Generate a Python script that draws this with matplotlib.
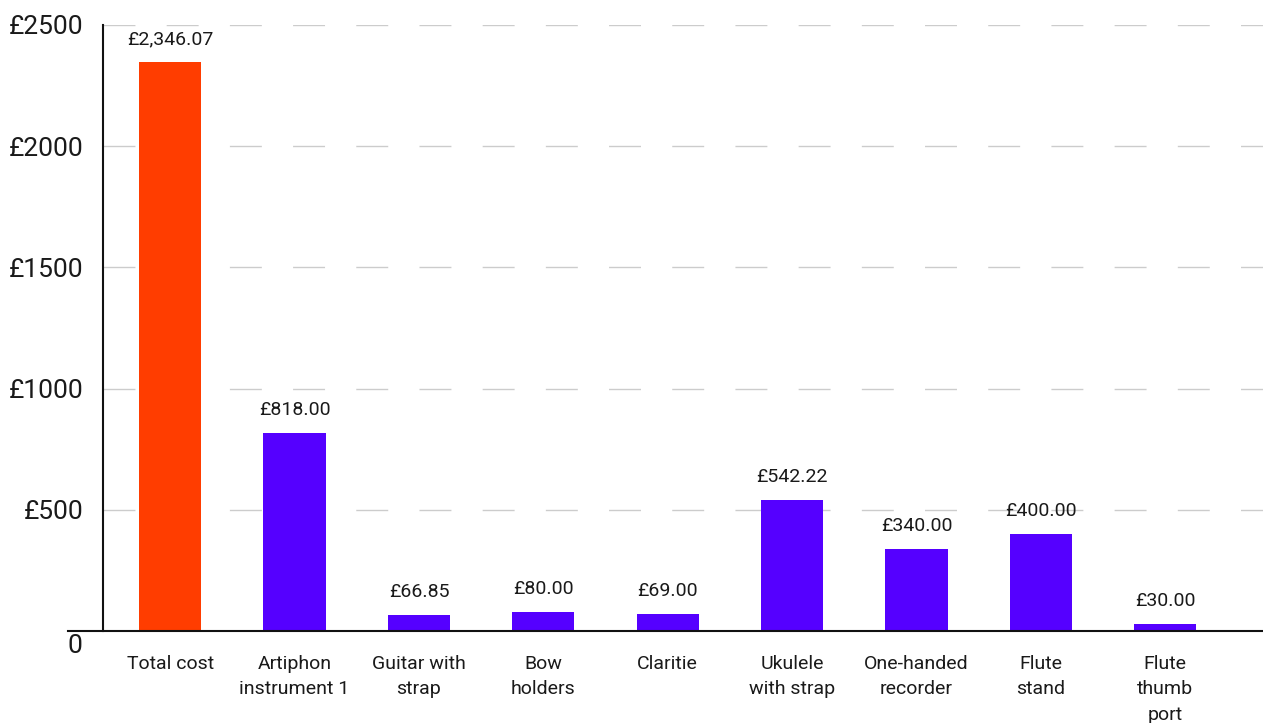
import matplotlib
matplotlib.use("Agg")
import matplotlib.pyplot as plt
from matplotlib.transforms import blended_transform_factory

# Cost of each item (GBP)
categories = ["Total cost", "Artiphon\ninstrument 1", "Guitar with\nstrap", "Bow\nholders",
              "Claritie", "Ukulele\nwith strap", "One-handed\nrecorder", "Flute\nstand",
              "Flute\nthumb\nport"]
costs = [2346.07, 818.00, 66.85, 80.00, 69.00, 542.22, 340.00, 400.00, 30.00]
value_labels = ["£2,346.07", "£818.00", "£66.85", "£80.00", "£69.00", "£542.22",
                "£340.00", "£400.00", "£30.00"]
y_ticks = [500, 1000, 1500, 2000, 2500]
y_tick_labels = ["£500", "£1000", "£1500", "£2000", "£2500"]

TOTAL_COLOR = "#ff3d00"
ITEM_COLOR = "#5500ff"
TEXT_COLOR = "#1a1a1a"
GRID_COLOR = "#cccccc"

plt.rcParams["font.family"] = ["Roboto", "DejaVu Sans"]

fig = plt.figure(figsize=(12.63, 7.23), dpi=100)
ax = fig.add_axes([103 / 1263, 92 / 723, 1160 / 1263, 606 / 723])

x = list(range(len(categories)))
colors = [TOTAL_COLOR] + [ITEM_COLOR] * (len(categories) - 1)
bars = ax.bar(x, costs, width=0.5, color=colors, zorder=3)

ax.set_xlim(-0.54, 8.785)
ax.set_ylim(0, 2500)

# dashed horizontal grid
grid_lw = 1.0
for yv in y_ticks:
    ax.axhline(yv, color=GRID_COLOR, lw=grid_lw, zorder=1,
               linestyle=(0, (23 / grid_lw, 22.5 / grid_lw)))

# value labels above bars
for xi, val, lab in zip(x, costs, value_labels):
    ax.annotate(lab, (xi, val), xytext=(0, 13), textcoords="offset points",
                ha="center", va="baseline", fontsize=14, color=TEXT_COLOR, zorder=4)

# axes styling
for side in ("top", "right", "bottom"):
    ax.spines[side].set_visible(False)
ax.spines["left"].set_linewidth(1.5)
ax.spines["left"].set_color("#111111")
ax.axhline(0, xmin=-0.03, xmax=1, color="#111111", lw=1.5, clip_on=False, zorder=5)

ax.set_yticks(y_ticks)
ax.set_yticklabels(y_tick_labels)
ax.tick_params(axis="y", length=0, pad=14, labelsize=19, labelcolor=TEXT_COLOR)

ax.set_xticks(x)
ax.set_xticklabels(categories, linespacing=1.55)
ax.tick_params(axis="x", length=0, pad=17, labelsize=14, labelcolor=TEXT_COLOR)

# zero label sits below the baseline
trans = blended_transform_factory(ax.transAxes, ax.transData)
ax.annotate("0", (0, 0), xycoords=trans, xytext=(-14.5, -2), textcoords="offset points",
            ha="right", va="top", fontsize=19, color=TEXT_COLOR)

fig.savefig("out.png", dpi=100)
